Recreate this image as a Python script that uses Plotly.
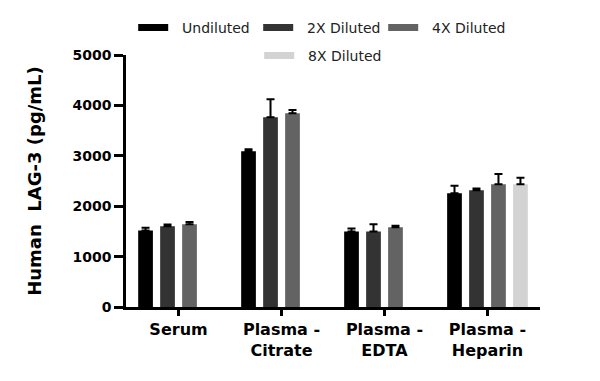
import plotly.graph_objects as go

categories = ["Serum", "Plasma -<br>Citrate", "Plasma -<br>EDTA", "Plasma -<br>Heparin"]
series_names = ["Undiluted", "2X Diluted", "4X Diluted", "8X Diluted"]
undiluted = [1520, 3090, 1500, 2255]
undiluted_err = [50, 40, 60, 150]
diluted_2x = [1600, 3765, 1500, 2315]
diluted_2x_err = [35, 355, 140, 35]
diluted_4x = [1640, 3845, 1580, 2435]
diluted_4x_err = [45, 65, 30, 205]
diluted_8x = [None, None, None, 2435]
diluted_8x_err = [None, None, None, 130]
colors = ["#000000", "#333333", "#636363", "#d3d3d3"]
y_ticks = [0, 1000, 2000, 3000, 4000, 5000]

values = [undiluted, diluted_2x, diluted_4x, diluted_8x]
errors = [undiluted_err, diluted_2x_err, diluted_4x_err, diluted_8x_err]

fig = go.Figure()
for name, vals, errs, col in zip(series_names, values, errors, colors):
    fig.add_trace(go.Bar(
        x=categories, y=vals, name=name, marker=dict(color=col, line=dict(width=0)),
        showlegend=False,
        error_y=dict(type="data", symmetric=False, array=errs,
                     arrayminus=[0 if e is not None else None for e in errs],
                     color="black", thickness=2, width=4),
    ))

# legend-only entries (wide rectangular swatches)
for i, (name, col) in enumerate(zip(series_names, colors)):
    fig.add_trace(go.Scatter(
        x=[None], y=[None], mode="lines", name="\u00a0\u00a0" + name,
        line=dict(color=col, width=7),
        legend="legend" if i < 3 else "legend2",
    ))

font_family = "DejaVu Sans"
fig.update_layout(
    width=600, height=381,
    margin=dict(l=126, r=60, t=55, b=74, autoexpand=False),
    paper_bgcolor="white", plot_bgcolor="white",
    barmode="group", bargap=0.146, bargroupgap=0.33,
    font=dict(family=font_family, color="black"),
    legend=dict(orientation="h", xref="container", yref="container",
                x=0.222, y=1 - 12 / 381, xanchor="left", yanchor="top",
                entrywidth=80, entrywidthmode="pixels",
                font=dict(size=14, color="#222222"), bgcolor="rgba(0,0,0,0)",
                itemclick=False),
    legend2=dict(orientation="h", xref="container", yref="container",
                 x=0.432, y=1 - 40 / 381, xanchor="left", yanchor="top",
                 font=dict(size=14, color="#222222"), bgcolor="rgba(0,0,0,0)"),
    xaxis=dict(range=[-0.51, 3.51], showline=True, linewidth=2.5, linecolor="black",
               ticks="outside", ticklen=6, tickwidth=2.5, tickcolor="black",
               tickfont=dict(size=16, family=font_family, weight="bold"),
               showgrid=False, zeroline=False),
    yaxis=dict(range=[0, 5000], tickvals=y_ticks, showline=True, linewidth=2.5,
               linecolor="black", ticks="outside", ticklen=9, tickwidth=2.5,
               tickcolor="black", tickfont=dict(size=14, family=font_family, weight="bold"),
               showgrid=False, zeroline=False,
               title=dict(text="Human  LAG-3 (pg/mL)", standoff=27,
                          font=dict(size=18, family=font_family, weight="bold"))),
)

fig.write_html("out.html", config={"displayModeBar": False},
               post_script="document.body.style.margin='0';document.body.style.padding='0';")
